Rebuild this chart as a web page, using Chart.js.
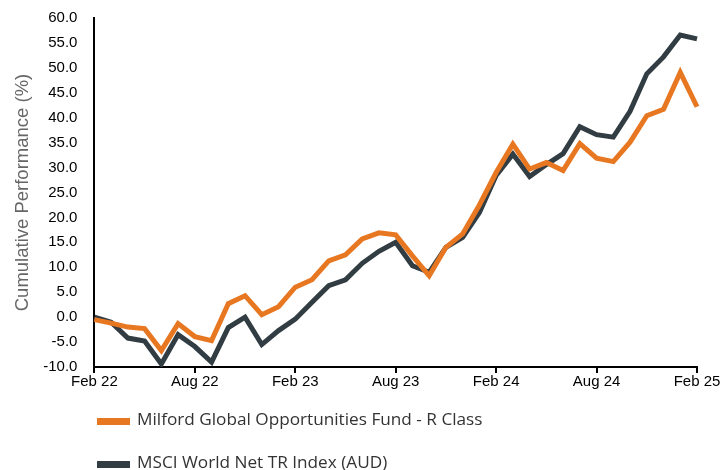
<!DOCTYPE html>
<html>
<head>
<meta charset="utf-8">
<script src="https://cdn.jsdelivr.net/npm/chart.js@4"></script>
<style>
  body { margin: 0; background: #fff; }
  .wrap { position: relative; width: 723px; height: 470px; }
  canvas { position: absolute; left: 0; top: 0; }
  .legend { position: absolute; left: 97px; font-family: 'Open Sans', sans-serif; font-size: 17.2px; color: #333; line-height: 20px; white-space: nowrap; }
  .legend span.box { display: inline-block; width: 33px; height: 7px; vertical-align: middle; margin-right: 7px; position: relative; top: 1px; }
</style>
</head>
<body>
<div class="wrap">
  <canvas id="chart" width="723" height="470"></canvas>
  <div class="legend" style="top:409px"><span class="box" style="background:#E87722"></span>Milford Global Opportunities Fund - R Class</div>
  <div class="legend" style="top:452px"><span class="box" style="background:#313D43"></span>MSCI World Net TR Index (AUD)</div>
</div>
<script>
const months = [
  'Feb 22', 'Mar 22', 'Apr 22', 'May 22', 'Jun 22', 'Jul 22', 'Aug 22', 'Sep 22', 'Oct 22', 'Nov 22', 'Dec 22', 'Jan 23',
  'Feb 23', 'Mar 23', 'Apr 23', 'May 23', 'Jun 23', 'Jul 23', 'Aug 23', 'Sep 23', 'Oct 23', 'Nov 23', 'Dec 23', 'Jan 24',
  'Feb 24', 'Mar 24', 'Apr 24', 'May 24', 'Jun 24', 'Jul 24', 'Aug 24', 'Sep 24', 'Oct 24', 'Nov 24', 'Dec 24', 'Jan 25',
  'Feb 25'
];

const fund = [
  -0.5, -1.2, -2.0, -2.3, -6.7, -1.3, -3.9, -4.7, 2.7, 4.3, 0.5, 2.1,
  6.0, 7.5, 11.3, 12.5, 15.7, 16.9, 16.5, 12.3, 8.3, 14.0, 16.7, 22.5,
  29.0, 34.7, 29.7, 31.0, 29.4, 34.8, 31.9, 31.2, 35.1, 40.4, 41.7, 49.1,
  42.2
];

const index = [
  0.0, -1.0, -4.2, -4.8, -9.4, -3.5, -5.9, -9.0, -2.1, 0.0, -5.5, -2.7,
  -0.4, 3.0, 6.3, 7.5, 10.8, 13.2, 15.0, 10.3, 9.0, 14.0, 16.0, 21.0,
  28.4, 32.7, 28.2, 30.6, 32.8, 38.2, 36.6, 36.1, 41.3, 48.8, 52.2, 56.6,
  55.8
];

const tickFont = { family: "'Liberation Sans', Arial, sans-serif", size: 15 };

const ctx = document.getElementById('chart').getContext('2d');
new Chart(ctx, {
  type: 'line',
  data: {
    labels: months,
    datasets: [
      { label: 'Milford Global Opportunities Fund - R Class', data: fund, borderColor: '#E87722', borderWidth: 5, pointRadius: 0, tension: 0 },
      { label: 'MSCI World Net TR Index (AUD)', data: index, borderColor: '#313D43', borderWidth: 5, pointRadius: 0, tension: 0 },
    ],
  },
  options: {
    responsive: false,
    animation: false,
    layout: { padding: { top: 12, right: 26, bottom: 79, left: 12 } },
    plugins: { legend: { display: false }, tooltip: { enabled: false } },
    scales: {
      x: {
        offset: false,
        border: { color: '#000', width: 2 },
        grid: {
          drawOnChartArea: false,
          tickLength: 6,
          color: (c) => (c.index % 6 === 0 ? '#000' : 'rgba(0,0,0,0)'),
          lineWidth: 2,
        },
        ticks: {
          autoSkip: false,
          maxRotation: 0,
          color: '#000',
          font: tickFont,
          padding: 0,
          callback: (v, i) => (i % 6 === 0 ? months[i] : ''),
        },
      },
      y: {
        min: -10,
        max: 60,
        border: { color: '#000', width: 2 },
        grid: { display: false },
        ticks: {
          stepSize: 5,
          color: '#000',
          font: tickFont,
          padding: 9,
          callback: (v) => v.toFixed(1),
        },
        title: {
          display: true,
          text: 'Cumulative Performance (%)',
          color: '#666',
          font: { family: "'Liberation Sans', Arial, sans-serif", size: 18.5 },
          padding: { top: 0, bottom: 0 },
        },
      },
    },
  },
});
</script>
</body>
</html>
